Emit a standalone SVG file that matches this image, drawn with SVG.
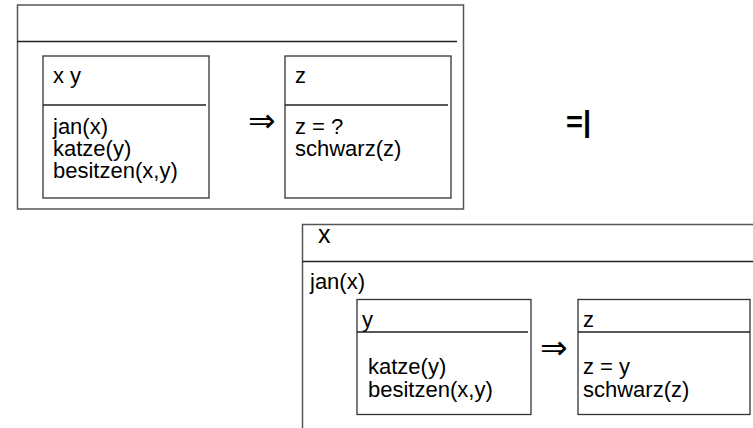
<svg xmlns="http://www.w3.org/2000/svg" width="753" height="428" viewBox="0 0 753 428">
<style>
.box{fill:none;stroke:#555;stroke-width:1.5}
.ibox{fill:none;stroke:#333;stroke-width:1.3}
.div{stroke:#222;stroke-width:1.3}
.t{font-family:"Liberation Sans",Arial,sans-serif;font-size:22px;fill:#000}
.arr{font-family:"DejaVu Sans",sans-serif;font-size:33px;fill:#000}
</style>
<rect width="753" height="428" fill="#fff"/>
<g id="drs-top">
<rect class="box" x="17.5" y="5" width="446" height="204"/>
<line class="div" x1="17.5" y1="41.5" x2="457" y2="41.5"/>
</g>
<g id="drs-top-antecedent">
<rect class="ibox" x="43" y="56" width="166" height="142"/>
<line class="div" x1="43" y1="105" x2="206" y2="105"/>
<text class="t" x="53" y="83">x y</text>
<text class="t" x="53" y="134">jan(x)</text>
<text class="t" x="53" y="156">katze(y)</text>
<text class="t" x="53" y="178">besitzen(x,y)</text>
</g>
<g id="drs-top-consequent">
<rect class="ibox" x="285" y="56" width="166" height="142"/>
<line class="div" x1="285" y1="105" x2="448" y2="105"/>
<text class="t" x="295" y="83">z</text>
<text class="t" x="295" y="134">z = ?</text>
<text class="t" x="295" y="156">schwarz(z)</text>
</g>
<g id="entails">
<text x="566" y="132" style="font-family:'Liberation Sans',Arial,sans-serif;font-size:29px;font-weight:bold">=|</text>
</g>
<g id="drs-bottom">
<path class="box" d="M302.5 428 V224.5 H753"/>
<line class="div" x1="302.5" y1="261.5" x2="753" y2="261.5"/>
<text class="t" x="318" y="243" style="font-size:25px">x</text>
<text class="t" x="310" y="289">jan(x)</text>
</g>
<g id="drs-bottom-antecedent">
<rect class="ibox" x="357" y="299.5" width="174" height="115"/>
<line class="div" x1="357" y1="332" x2="528" y2="332"/>
<text class="t" x="362" y="327">y</text>
<text class="t" x="368" y="374">katze(y)</text>
<text class="t" x="368" y="397">besitzen(x,y)</text>
</g>
<g id="drs-bottom-consequent">
<rect class="ibox" x="578" y="299.5" width="172" height="115"/>
<line class="div" x1="578" y1="332" x2="750" y2="332"/>
<text class="t" x="583" y="327">z</text>
<text class="t" x="583" y="374">z = y</text>
<text class="t" x="583" y="397">schwarz(z)</text>
</g>
<g id="connectors">
<text class="arr" x="248" y="132">⇒</text>
<text class="arr" x="540" y="359">⇒</text>
</g>
</svg>
